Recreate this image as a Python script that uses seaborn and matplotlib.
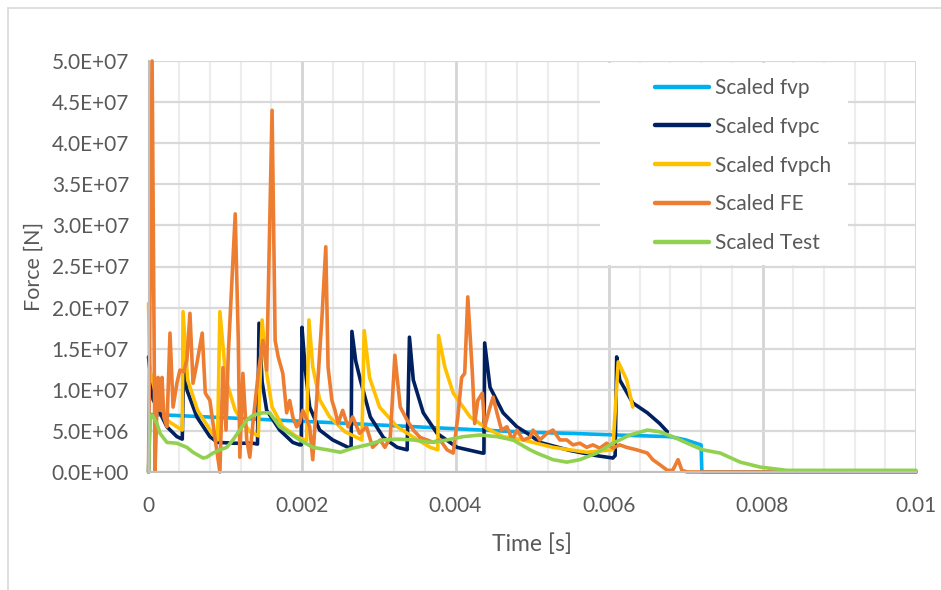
import matplotlib
matplotlib.use("Agg")
import matplotlib.pyplot as plt
import numpy as np
import pandas as pd
import seaborn as sns
from matplotlib.ticker import MultipleLocator, FuncFormatter, FixedLocator
from matplotlib.patches import Rectangle
from matplotlib.lines import Line2D

sns.set_theme(style="white")
plt.rcParams["font.family"] = ["Lato", "DejaVu Sans"]

# ---------------- data (time in s, force in MN) ----------------
t_fvp = [0, 0.00002, 0.0003, 0.001, 0.0024, 0.0037, 0.0049, 0.0055, 0.0061,
         0.0068, 0.0070, 0.0072, 0.00721, 0.01]
f_fvp = [0, 7.0, 6.9, 6.6, 6.0, 5.4, 4.85, 4.7, 4.5, 4.3, 3.9, 3.3, 0, 0]

t_fvpc = [0, 0.00006, 0.00015, 0.00024, 0.00037, 0.00044, 0.00046, 0.0005, 0.00063,
          0.0008, 0.0009, 0.00113, 0.00136, 0.00142, 0.00144, 0.00148, 0.00154, 0.00171,
          0.00188, 0.00197, 0.00199, 0.002, 0.00204, 0.0021, 0.00223, 0.0024,
          0.0026, 0.00264, 0.00265, 0.0027, 0.00276, 0.00289, 0.00306, 0.00324, 0.00337,
          0.0034, 0.00345, 0.00358, 0.00376, 0.00402, 0.00435, 0.00437, 0.00438,
          0.00445, 0.00462, 0.0048, 0.00497, 0.0051, 0.0055, 0.00583, 0.00605,
          0.00608, 0.0061, 0.00614, 0.00631, 0.0065, 0.00666, 0.00676]
f_fvpc = [14.0, 8.8, 7.2, 5.5, 4.3, 4.0, 14.5, 10.0, 6.7,
          4.3, 3.6, 3.5, 3.5, 3.4, 18.1, 11.0, 7.5, 5.1,
          3.6, 3.3, 3.3, 17.6, 12.7, 7.9, 5.1, 3.9,
          3.0, 3.0, 17.1, 13.5, 11.2, 6.7, 4.2, 3.0, 2.7,
          16.4, 11.2, 7.2, 4.7, 3.0, 2.3, 2.3, 15.7,
          10.3, 7.2, 5.5, 4.5, 3.6, 2.6, 2.0, 1.7,
          2.0, 14.0, 11.2, 8.4, 7.2, 5.9, 4.9]

t_fvpch = [0, 0.00002, 0.00009, 0.00024, 0.00037, 0.00044, 0.00045, 0.00051, 0.00064,
           0.00083, 0.0009, 0.00093, 0.00101, 0.00113, 0.00132, 0.00143, 0.00148,
           0.00154, 0.00161, 0.00175, 0.00193, 0.00206, 0.00209, 0.00214, 0.00223,
           0.00236, 0.00256, 0.00278, 0.00281, 0.00288, 0.00301, 0.00324, 0.00344,
           0.00367, 0.00377, 0.00378, 0.00386, 0.00397, 0.00419, 0.00441, 0.00462,
           0.00488, 0.00527, 0.00571, 0.00605, 0.00612, 0.00623, 0.00631]
f_fvpch = [20.5, 12.4, 9.6, 6.3, 5.5, 5.1, 19.5, 11.2, 7.5,
           4.7, 3.9, 19.5, 11.2, 7.5, 4.9, 4.4, 18.5,
           12.0, 7.9, 5.5, 4.3, 3.8, 18.5, 12.8, 8.8,
           6.7, 4.9, 3.9, 17.2, 11.5, 7.9, 5.5, 4.3,
           3.0, 2.7, 16.6, 12.8, 9.6, 6.7, 5.3, 4.3,
           3.9, 3.0, 2.4, 2.7, 13.4, 11.2, 7.9]

t_fe = [0, 0.000047, 0.000085, 0.00011, 0.000124, 0.00015, 0.000176, 0.0002, 0.00024,
        0.00028, 0.00032, 0.00037, 0.00041, 0.00046, 0.0005, 0.00054, 0.00058,
        0.00063, 0.0007, 0.00074, 0.0008, 0.00087, 0.00093, 0.00097, 0.00101,
        0.00104, 0.00113, 0.00117, 0.00119, 0.00123, 0.00128, 0.00132, 0.00136,
        0.00143, 0.00149, 0.00154, 0.00161, 0.00165, 0.00169, 0.00175, 0.0018,
        0.00184, 0.00188, 0.00193, 0.00197, 0.00201, 0.0021, 0.00214, 0.00219,
        0.00226, 0.00231, 0.00234, 0.00239, 0.00243, 0.00247, 0.00253, 0.0026,
        0.00266, 0.00275, 0.00284, 0.00292, 0.00302, 0.00308, 0.00315, 0.00321,
        0.00328, 0.00337, 0.00345, 0.00354, 0.00363, 0.00371, 0.0038, 0.00389,
        0.00397, 0.00403, 0.00408, 0.00412, 0.00416, 0.00422, 0.00425, 0.00429,
        0.00435, 0.00438, 0.00445, 0.00449, 0.00454, 0.0046, 0.00467, 0.00474,
        0.0048, 0.00488, 0.00497, 0.00501, 0.0051, 0.00519, 0.00527, 0.00536,
        0.00545, 0.00553, 0.00562, 0.00571, 0.00579, 0.00588, 0.00597, 0.00605,
        0.00614, 0.00623, 0.00636, 0.0065, 0.00657, 0.00666, 0.00676, 0.00683,
        0.0069, 0.00695, 0.00702, 0.01]
f_fe = [0, 50.0, 0.2, 7.9, 11.5, 7.5, 11.5, 6.7, 5.5,
        16.9, 7.9, 10.8, 12.4, 12.2, 13.6, 19.3, 10.8,
        13.2, 16.9, 9.6, 8.7, 3.9, 0.0, 12.7, 5.1,
        14.4, 31.4, 16.0, 1.8, 12.0, 3.9, 1.8, 5.9,
        12.0, 16.0, 12.4, 44.0, 16.0, 14.0, 12.0, 7.2,
        8.7, 6.7, 5.5, 6.0, 7.5, 5.5, 1.5, 8.7,
        18.8, 27.4, 12.7, 8.7, 7.5, 5.9, 7.5, 5.5,
        6.7, 4.7, 5.5, 3.0, 3.9, 3.0, 4.2, 14.2,
        7.9, 6.3, 5.1, 4.2, 3.9, 3.6, 3.9, 2.7,
        2.3, 6.7, 11.5, 12.0, 21.3, 12.0, 5.9, 8.7,
        9.6, 5.5, 7.9, 9.1, 7.2, 5.1, 5.5, 3.9,
        5.1, 3.9, 4.2, 5.1, 3.9, 4.7, 5.1, 3.9,
        3.9, 3.3, 3.5, 3.0, 3.3, 2.9, 3.5, 2.9,
        3.3, 3.0, 2.7, 2.3, 1.5, 0.9, 0.2, 0.2,
        1.5, 0.2, 0.0, 0.0]

t_test = [0, 0.00002, 0.00005, 0.00011, 0.00015, 0.00024, 0.00037, 0.0005, 0.00058,
          0.00071, 0.00076, 0.00084, 0.00093, 0.00102, 0.0011, 0.00119, 0.00128,
          0.00136, 0.00149, 0.00158, 0.00171, 0.00184, 0.00197, 0.00214, 0.00233,
          0.0025, 0.00266, 0.00285, 0.00306, 0.00324, 0.00345, 0.00367, 0.00389,
          0.0041, 0.00432, 0.00454, 0.00475, 0.00497, 0.00506, 0.00527, 0.00545,
          0.00562, 0.00584, 0.00605, 0.00627, 0.0065, 0.00666, 0.00683, 0.00702,
          0.00722, 0.00745, 0.00771, 0.00797, 0.00814, 0.00832, 0.0098, 0.01]
f_test = [0, 6.9, 6.9, 5.9, 4.7, 3.6, 3.5, 3.0, 2.4,
          1.7, 1.8, 2.3, 2.7, 3.0, 3.9, 5.1, 6.3,
          6.9, 7.2, 7.2, 5.5, 4.7, 3.9, 3.0, 2.7,
          2.4, 2.9, 3.3, 3.9, 4.0, 3.9, 3.6, 3.9,
          4.3, 4.5, 4.3, 3.9, 2.7, 2.3, 1.5, 1.2,
          1.5, 2.3, 3.5, 4.5, 5.1, 4.9, 4.3, 3.5,
          2.7, 2.3, 1.2, 0.6, 0.4, 0.2, 0.2, 0.2]

series_names = ["Scaled fvp", "Scaled fvpc", "Scaled fvpch", "Scaled FE", "Scaled Test"]
series_colors = ["#00B0F0", "#002060", "#FFC000", "#ED7D31", "#92D050"]
series_t = [t_fvp, t_fvpc, t_fvpch, t_fe, t_test]
series_f = [f_fvp, f_fvpc, f_fvpch, f_fe, f_test]

x_ticks = [0, 0.002, 0.004, 0.006, 0.008, 0.01]
y_ticks = [0, 5e6, 1e7, 1.5e7, 2e7, 2.5e7, 3e7, 3.5e7, 4e7, 4.5e7, 5e7]

# ---------------- figure ----------------
W, H = 941, 590
fig = plt.figure(figsize=(W / 100, H / 100), dpi=100)
fig.patch.set_facecolor("white")

# outer chart border (left and top)
fig.add_artist(Line2D([8 / W, 8 / W], [0, 1 - 8 / H], transform=fig.transFigure,
                      color="#D9D9D9", lw=1.2))
fig.add_artist(Line2D([8 / W, 1], [1 - 8 / H, 1 - 8 / H], transform=fig.transFigure,
                      color="#D9D9D9", lw=1.2))

x0, x1, ytop, ybot = 148.5, 916, 61, 472
ax = fig.add_axes([x0 / W, 1 - ybot / H, (x1 - x0) / W, (ybot - ytop) / H])
ax.set_facecolor("white")

for name, col, t, f in zip(series_names, series_colors, series_t, series_f):
    df = pd.DataFrame({"t": t, "F": np.array(f) * 1e6})
    sns.lineplot(data=df, x="t", y="F", ax=ax, color=col, lw=2.6, label=name,
                 estimator=None, sort=False, legend=False)

for ln in ax.get_lines():
    ln.set_clip_on(False)
    ln.set_solid_joinstyle("round")

ax.set_xlim(0, 0.01)
ax.set_ylim(0, 5e7)
ax.xaxis.set_major_locator(FixedLocator(x_ticks))
ax.xaxis.set_minor_locator(MultipleLocator(0.0004))
ax.yaxis.set_major_locator(FixedLocator(y_ticks))
ax.xaxis.set_major_formatter(FuncFormatter(lambda v, p: f"{v:g}"))
ax.yaxis.set_major_formatter(FuncFormatter(lambda v, p: f"{v:.1E}"))

ax.grid(which="major", axis="x", color="#D4D4D4", lw=2.0)
ax.grid(which="minor", axis="x", color="#EDEDED", lw=1.6)
ax.grid(which="major", axis="y", color="#D9D9D9", lw=1.6)
ax.set_axisbelow(True)

for s in ["top", "right"]:
    ax.spines[s].set_visible(False)
for s in ["left", "bottom"]:
    ax.spines[s].set_color("#BFBFBF")
    ax.spines[s].set_linewidth(1.5)

ax.tick_params(axis="both", which="both", length=0, labelsize=15, labelcolor="#595959")
ax.tick_params(axis="y", pad=14)
ax.tick_params(axis="x", pad=17)

ax.set_xlabel("Time [s]", fontsize=16.5, color="#595959", labelpad=13)
ax.set_ylabel("Force [N]", fontsize=15.5, color="#595959", labelpad=6)

# legend background box
fig.add_artist(Rectangle((600 / W, 1 - 265 / H), (848 - 600) / W, (265 - 63) / H,
                         transform=fig.transFigure, facecolor="white",
                         edgecolor="none", zorder=5))
handles = [Line2D([0], [0], color=c, lw=3.2) for c in series_colors]
leg = fig.legend(handles, series_names, loc="upper left",
                 bbox_to_anchor=(655 / W, 1 - 78 / H), bbox_transform=fig.transFigure,
                 frameon=False, fontsize=15, handlelength=2.6, handletextpad=0.3,
                 labelspacing=0.9, borderpad=0, borderaxespad=0)
leg.set_zorder(6)
for txt in leg.get_texts():
    txt.set_color("#595959")

fig.savefig("out.png", dpi=100, facecolor="white")
